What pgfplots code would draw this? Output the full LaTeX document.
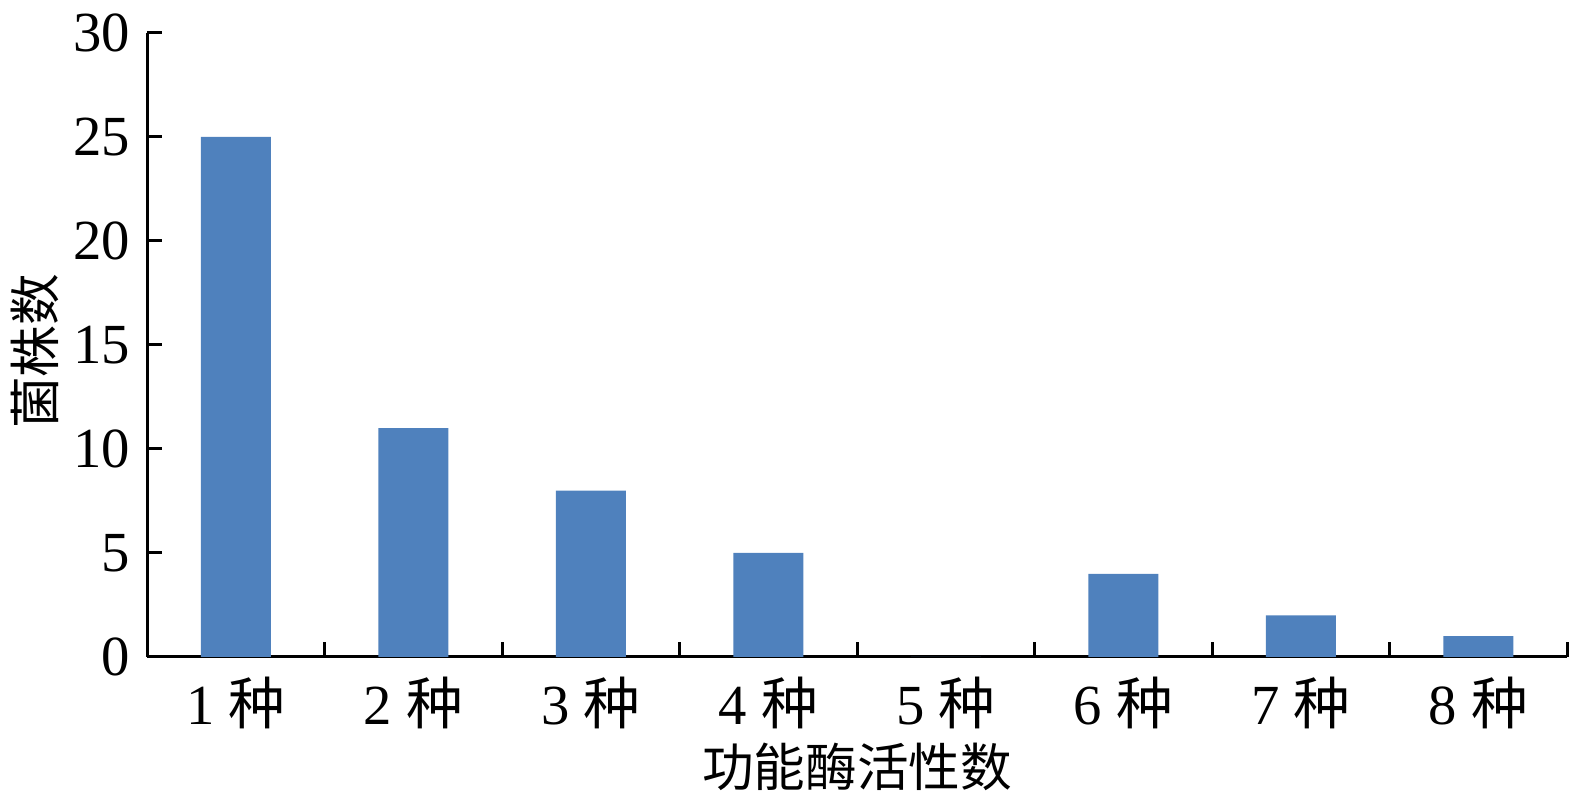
\documentclass[border=0pt]{standalone}
\usepackage{fontspec}
\setmainfont{Liberation Serif}
\newfontfamily\cjk{Noto Sans CJK SC}
\usepackage{pgfplots}
\pgfplotsset{compat=1.18}
\definecolor{barblue}{HTML}{4F81BD}
\begin{document}
\begin{tikzpicture}
\begin{axis}[
  scale only axis, width=426pt, height=187.2pt,
  xmin=0.5, xmax=8.5, ymin=0, ymax=30,
  axis x line*=bottom, axis y line*=left,
  axis line style={line width=0.9pt, -},
  ytick={0,5,...,30},
  xtick={0.5,1.5,...,8.5},
  x tick label as interval,
  xticklabels={1 {\cjk 种},2 {\cjk 种},3 {\cjk 种},4 {\cjk 种},5 {\cjk 种},6 {\cjk 种},7 {\cjk 种},8 {\cjk 种}},
  tick align=inside,
  major tick length=4.5pt,
  tick style={line width=0.9pt, black},
  /pgf/number format/assume math mode=true,
  ticklabel style={font=\fontsize{17}{20}\selectfont},
  yticklabel style={xshift=-1.5pt},
  xticklabel style={yshift=-2.5pt},
  xlabel={\cjk 功能酶活性数},
  ylabel={\cjk 菌株数},
  label style={font=\fontsize{15.5}{18}\selectfont},
  xlabel style={at={(axis description cs:0.5,-0.176)}, anchor=center},
  ylabel style={at={(axis description cs:-0.0789,0.49)}, anchor=center},
]
\addplot[ybar, bar width=21pt, fill=barblue, draw=none] coordinates {
  (1,25) (2,11) (3,8) (4,5) (5,0) (6,4) (7,2) (8,1)
};
\end{axis}
\path (current axis.south west) ++(-44.1pt,-45pt) (current axis.north east) ++(2.4pt,9.9pt);
\end{tikzpicture}
\end{document}
